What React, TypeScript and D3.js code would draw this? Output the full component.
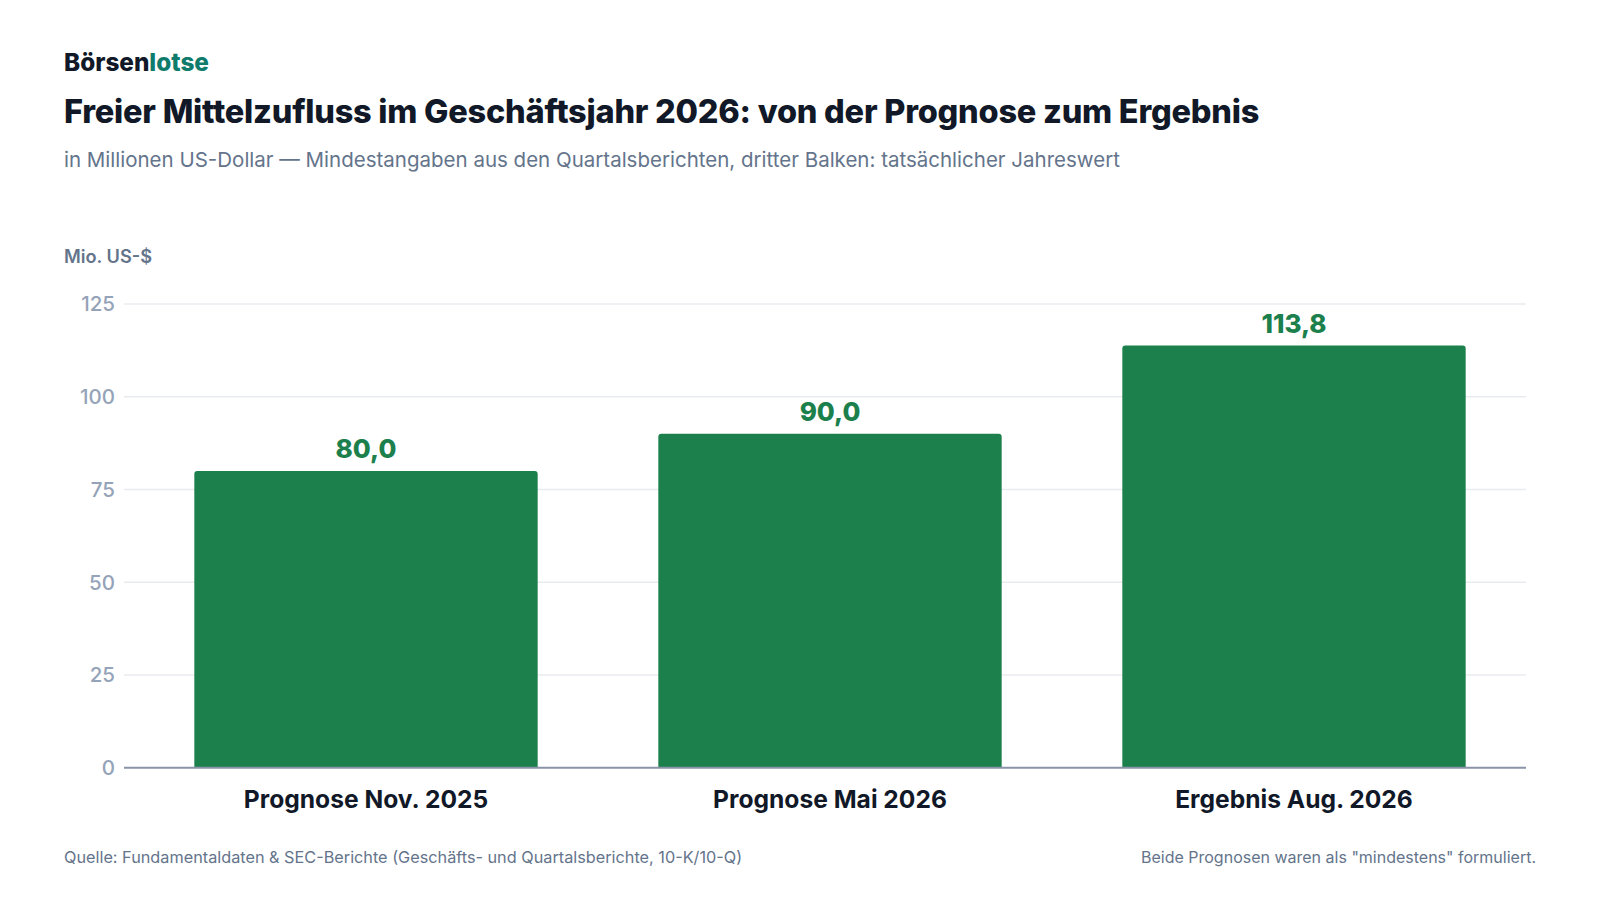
import * as d3 from "d3";

const categories = ["Prognose Nov. 2025", "Prognose Mai 2026", "Ergebnis Aug. 2026"];
const values = [80.0, 90.0, 113.8];
const yTicks = [0, 25, 50, 75, 100, 125];

const W = 1600;
const H = 900;
const FONT = "Inter, 'Noto Sans', sans-serif";

export default function App() {
  const gridLeft = 124;
  const bandLeft = 134;
  const right = 1526;
  const top = 304;
  const bottom = 767.7;

  const x = d3
    .scaleBand<string>()
    .domain(categories)
    .range([bandLeft, right])
    .paddingInner(0.26)
    .paddingOuter(0.13);

  const y = d3.scaleLinear().domain([0, 125]).range([bottom, top]);

  const fmt = (v: number) => v.toFixed(1).replace(".", ",");

  // bar with rounded top corners only
  const barPath = (x0: number, w: number, y0: number, y1: number, r: number) => {
    const p = d3.path();
    p.moveTo(x0, y1);
    p.lineTo(x0, y0 + r);
    p.arcTo(x0, y0, x0 + r, y0, r);
    p.lineTo(x0 + w - r, y0);
    p.arcTo(x0 + w, y0, x0 + w, y0 + r, r);
    p.lineTo(x0 + w, y1);
    p.closePath();
    return p.toString();
  };

  return (
    <div style={{ position: "absolute", left: 0, top: 0 }}>
      <svg width={W} height={H} style={{ display: "block", background: "#ffffff" }} fontFamily={FONT}>
        {/* header */}
        <text x={64} y={70.5} fontSize={24.3} fontWeight={800} fill="#111827">
          Börsen<tspan fill="#0f7b6c">lotse</tspan>
        </text>
        <text x={64} y={123} fontSize={32.5} fontWeight={800} fill="#111827" letterSpacing={-0.23}>
          Freier Mittelzufluss im Geschäftsjahr 2026: von der Prognose zum Ergebnis
        </text>
        <text x={64} y={166.5} fontSize={20.5} fill="#64748b">
          in Millionen US-Dollar — Mindestangaben aus den Quartalsberichten, dritter Balken: tatsächlicher Jahreswert
        </text>

        {/* axis title */}
        <text x={64} y={263} fontSize={18.2} fontWeight={600} fill="#64748b">
          Mio. US-$
        </text>

        {/* grid + y ticks */}
        {yTicks.map((t) => (
          <g key={t}>
            {t !== 0 && (
              <line x1={gridLeft} x2={right} y1={y(t)} y2={y(t)} stroke="#e8ebf0" strokeWidth={1.5} />
            )}
            <text
              x={115}
              y={y(t)}
              dy="0.36em"
              textAnchor="end"
              fontSize={20.5}
              fontWeight={500}
              fill="#94a3b8"
            >
              {t}
            </text>
          </g>
        ))}

        {/* bars */}
        {categories.map((c, i) => {
          const bx = x(c) ?? 0;
          const bw = x.bandwidth();
          return (
            <g key={c}>
              <path d={barPath(bx, bw, y(values[i]), y(0), 3)} fill="#1c804c" />
              <text
                x={bx + bw / 2}
                y={y(values[i]) - 13}
                textAnchor="middle"
                fontSize={26}
                fontWeight={800}
                fill="#1c804c"
              >
                {fmt(values[i])}
              </text>
              <text
                x={bx + bw / 2}
                y={808}
                textAnchor="middle"
                fontSize={24.6}
                fontWeight={700}
                fill="#111827"
              >
                {c}
              </text>
            </g>
          );
        })}

        {/* baseline */}
        <line x1={gridLeft} x2={right} y1={y(0)} y2={y(0)} stroke="#8a94a8" strokeWidth={2} />

        {/* footer */}
        <text x={64} y={862.5} fontSize={16.25} fill="#64748b">
          Quelle: Fundamentaldaten &amp; SEC-Berichte (Geschäfts- und Quartalsberichte, 10-K/10-Q)
        </text>
        <text x={1536} y={862.5} fontSize={16} fill="#64748b" textAnchor="end">
          Beide Prognosen waren als "mindestens" formuliert.
        </text>
      </svg>
    </div>
  );
}
